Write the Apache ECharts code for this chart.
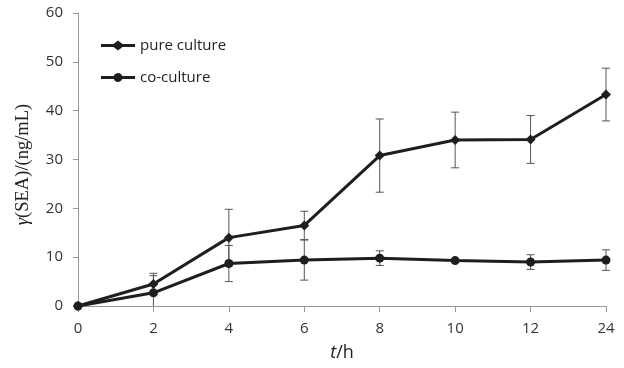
<!DOCTYPE html>
<html><head><meta charset="utf-8">
<script src="https://cdn.jsdelivr.net/npm/echarts@6/dist/echarts.min.js"></script>
<style>html,body{margin:0;padding:0;background:#fff}#c{width:624px;height:368px}</style>
</head><body><div id="c"></div>
<script>
var categories = ['0','2','4','6','8','10','12','24'];
var pureValues = [0, 4.5, 14.0, 16.5, 30.8, 34.0, 34.1, 43.3];
var pureErrors = [0, 2.2, 5.8, 2.9, 7.5, 5.7, 4.9, 5.4];
var coValues = [0, 2.7, 8.7, 9.4, 9.8, 9.3, 9.0, 9.4];
var coErrors = [0, 3.5, 3.7, 4.1, 1.5, 0.3, 1.5, 2.1];
var yTicks = [0, 10, 20, 30, 40, 50, 60];

function errData(vals, errs) {
  var out = [];
  for (var i = 0; i < vals.length; i++) {
    if (errs[i] > 0) out.push([i, vals[i] - errs[i], vals[i] + errs[i]]);
  }
  return out;
}
function renderErr(params, api) {
  var x = api.value(0), lo = api.value(1), hi = api.value(2);
  var loC = Math.max(lo, 0);
  var top = api.coord([x, hi]);
  var bot = api.coord([x, loC]);
  var hw = 4;
  var st = {stroke:'#555', lineWidth:1};
  var children = [
    {type:'line', shape:{x1:top[0], y1:top[1], x2:bot[0], y2:bot[1]}, style:st},
    {type:'line', shape:{x1:top[0]-hw, y1:top[1], x2:top[0]+hw, y2:top[1]}, style:st}
  ];
  if (lo >= 0) children.push({type:'line', shape:{x1:bot[0]-hw, y1:bot[1], x2:bot[0]+hw, y2:bot[1]}, style:st});
  return {type:'group', children:children};
}

var diamondIcon = 'path://M0,3.5 L12.5,3.5 L17,0 L21.5,3.5 L34,3.5 L34,6.5 L21.5,6.5 L17,10 L12.5,6.5 L0,6.5 Z';
var circleIcon = 'path://M0,3.5 L12.76,3.5 A4.5,4.5 0 0 1 21.24,3.5 L34,3.5 L34,6.5 L21.24,6.5 A4.5,4.5 0 0 1 12.76,6.5 L0,6.5 Z';

var chart = echarts.init(document.getElementById('c'), null, {renderer:'canvas'});
chart.setOption({
  animation: false,
  grid: {left:78, right:18, top:13, bottom:62},
  legend: {
    orient:'vertical', left:96, top:33, itemGap:17, itemWidth:34, itemHeight:10,
    data:[{name:'pure culture', icon:diamondIcon}, {name:'co-culture', icon:circleIcon}],
    textStyle:{fontFamily:'Open Sans', fontSize:15, color:'#222'}
  },
  xAxis: {
    type:'category', data:categories, boundaryGap:false,
    axisLine:{lineStyle:{color:'#999', width:1}},
    axisTick:{show:true, length:6, lineStyle:{color:'#999'}},
    axisLabel:{fontFamily:'Open Sans', fontSize:15, color:'#333', margin:15},
    name:'{i|t}{n|/h}', nameLocation:'middle', nameGap:38,
    nameTextStyle:{rich:{i:{fontFamily:'Open Sans', fontStyle:'italic', fontSize:18, color:'#222'}, n:{fontFamily:'Open Sans', fontSize:18, color:'#222'}}}
  },
  yAxis: {
    type:'value', min:yTicks[0], max:yTicks[yTicks.length-1], interval:10,
    splitLine:{show:false},
    axisLine:{show:true, lineStyle:{color:'#999', width:1}},
    axisTick:{show:true, length:5, lineStyle:{color:'#999'}},
    axisLabel:{fontFamily:'Open Sans', fontSize:15, color:'#333', margin:15},
    name:'{i|γ}{n|(SEA)/(ng/mL)}', nameLocation:'middle', nameGap:45, nameRotate:90,
    nameTextStyle:{padding:[0,10,0,0], rich:{i:{fontFamily:'Liberation Serif', fontStyle:'italic', fontSize:18.5, color:'#222'}, n:{fontFamily:'Liberation Serif', fontSize:18.5, color:'#222'}}}
  },
  series: [
    {type:'custom', name:'pureErr', renderItem:renderErr, data:errData(pureValues, pureErrors), encode:{x:0, y:[1,2]}, z:1, silent:true},
    {type:'custom', name:'coErr', renderItem:renderErr, data:errData(coValues, coErrors), encode:{x:0, y:[1,2]}, z:1, silent:true},
    {type:'line', name:'pure culture', data:pureValues, symbol:'diamond', symbolSize:10, showAllSymbol:true,
     lineStyle:{color:'#1e1e1e', width:3}, itemStyle:{color:'#1e1e1e'}, z:3},
    {type:'line', name:'co-culture', data:coValues, symbol:'circle', symbolSize:9, showAllSymbol:true,
     lineStyle:{color:'#1e1e1e', width:3}, itemStyle:{color:'#1e1e1e'}, z:3}
  ]
});
</script></body></html>
